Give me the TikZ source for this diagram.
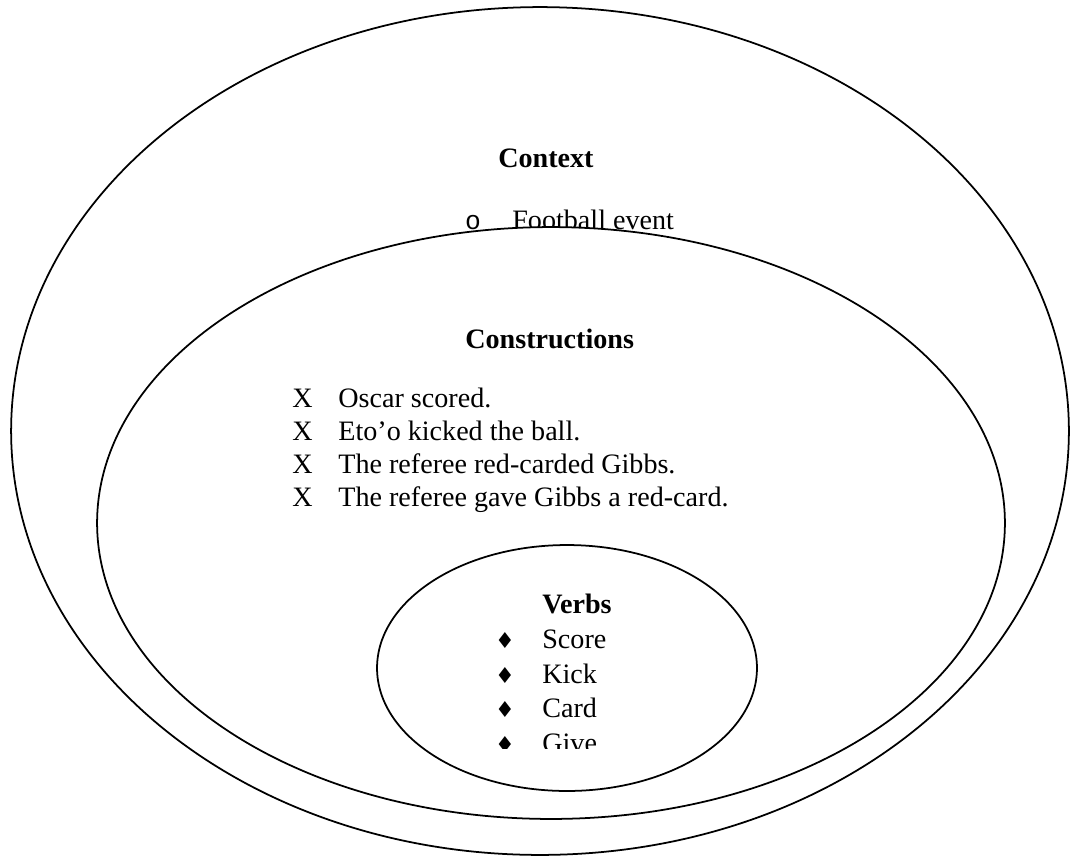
\documentclass[tikz,border=0pt]{standalone}
\usepackage{fontspec}
\setmainfont{Liberation Serif}
\newfontfamily\symfont{DejaVu Sans}
\newfontfamily\monofont{Liberation Mono}

\begin{document}
\begin{tikzpicture}[
    x=0.02cm, y=-0.02cm,
    ring/.style={draw=black, line width=1pt, fill=white},
    heading/.style={font=\fontsize{16}{19}\selectfont\bfseries, inner sep=0pt, anchor=base west},
    entry/.style={font=\fontsize{16}{19}\selectfont, inner sep=0pt, anchor=base west},
    xbul/.style={font=\fontsize{16}{19}\selectfont, inner sep=0pt, anchor=base west},
    dbul/.style={font=\fontsize{12.5}{15}\symfont, inner sep=0pt, anchor=base},
    obul/.style={font=\fontsize{15}{18}\monofont, inner sep=0pt, anchor=center},
]
\useasboundingbox (0,0) rectangle (1071,856);

% context
\draw[ring] (540,431) ellipse [x radius=10.58cm, y radius=8.48cm];
\node[heading] (ctx) at (498,167) {Context};
\node[obul] (ctxb) at (473,223) {o};
\node[entry] (ctx1) at (512,229) {Football event};

% constructions
\draw[ring] (551,523) ellipse [x radius=9.08cm, y radius=5.92cm];
\node[heading] (cons) at (465,348) {Constructions};
\node[xbul] (cb1) at (292,407) {X};
\node[xbul] (cb2) at (292,440) {X};
\node[xbul] (cb3) at (292,473) {X};
\node[xbul] (cb4) at (292,506) {X};
\node[entry] (cons1) at (338,407) {Oscar scored.};
\node[entry] (cons2) at (338,440) {Eto’o kicked the ball.};
\node[entry] (cons3) at (338,473) {The referee red-carded Gibbs.};
\node[entry] (cons4) at (338,506) {The referee gave Gibbs a red-card.};

% verbs
\draw[ring] (567,668) ellipse [x radius=3.8cm, y radius=2.46cm];
\node[heading] (verbs) at (542,613) {Verbs};
\node[dbul] (vb1) at (505,648) {♦};
\node[dbul] (vb2) at (505,683) {♦};
\node[dbul] (vb3) at (505,717) {♦};
\node[entry] (verb1) at (542,648) {Score};
\node[entry] (verb2) at (542,683) {Kick};
\node[entry] (verb3) at (542,717) {Card};
\begin{scope}
  \clip (450,720) rectangle (700,748);
  \node[dbul] (vb4) at (505,752) {♦};
  \node[entry] (verb4) at (542,752) {Give};
\end{scope}
\end{tikzpicture}
\end{document}
